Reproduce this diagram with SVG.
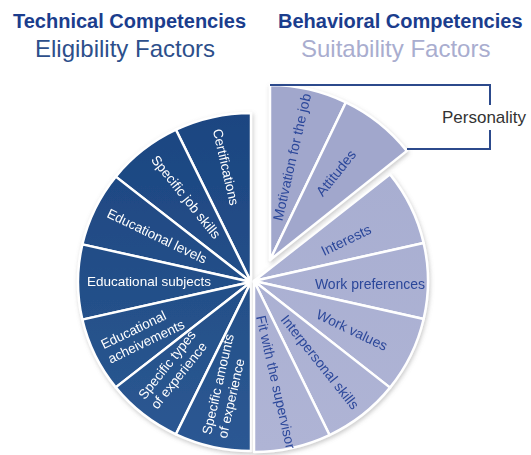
<svg xmlns="http://www.w3.org/2000/svg" width="531" height="455" viewBox="0 0 531 455">
<defs>
<linearGradient id="gDark" gradientUnits="userSpaceOnUse" x1="0" y1="113" x2="0" y2="451">
<stop offset="0" stop-color="#1c4581"/>
<stop offset="0.55" stop-color="#245089"/>
<stop offset="1" stop-color="#2c5893"/>
</linearGradient>
<linearGradient id="gLight" gradientUnits="userSpaceOnUse" x1="0" y1="170" x2="0" y2="452">
<stop offset="0" stop-color="#a8aed1"/>
<stop offset="1" stop-color="#afb4d5"/>
</linearGradient>
<filter id="sh" x="-10%" y="-10%" width="120%" height="120%">
<feDropShadow dx="1" dy="2" stdDeviation="2" flood-color="#7a7a7a" flood-opacity="0.4"/>
</filter>
</defs>
<style>
.dk{fill:url(#gDark);stroke:#fff;stroke-width:2.5;stroke-linejoin:round}
.lt{fill:url(#gLight);stroke:#fff;stroke-width:2.5;stroke-linejoin:round}
.ex{fill:#a1a7cc;stroke:#fff;stroke-width:2.5;stroke-linejoin:round}
.dl{font-family:"Liberation Sans",Arial,sans-serif;font-size:13.5px;fill:#fff}
.ll{font-family:"Liberation Sans",Arial,sans-serif;font-size:14px;fill:#2b479a}
.h1{font-family:"Liberation Sans",Arial,sans-serif;font-size:20px;font-weight:bold;fill:#1b3d8d}
.h2{font-family:"Liberation Sans",Arial,sans-serif;font-size:24px}
.br{fill:none;stroke:#2c4a8c;stroke-width:2}
</style>
<rect width="531" height="455" fill="#fff"/>
<g id="titles">
<text class="h1" x="13" y="28">Technical Competencies</text>
<text class="h2" x="35" y="57" fill="#2d4f8b">Eligibility Factors</text>
<text class="h1" x="278" y="28">Behavioral Competencies</text>
<text class="h2" x="301" y="57" fill="#a9adcf">Suitability Factors</text>
</g>
<g filter="url(#sh)">
<g id="certifications">
<path class="dk" d="M251,282 L251,113 A173,169 0 0 0 175.94,129.74 Z"/>
<text class="dl" text-anchor="middle" dy="0.35em" transform="translate(226,167) rotate(77.14)">Certifications</text>
</g>
<g id="specific-job-skills">
<path class="dk" d="M251,282 L175.94,129.74 A173,169 0 0 0 115.74,176.63 Z"/>
<text class="dl" text-anchor="middle" dy="0.35em" transform="translate(186,197) rotate(51.43)">Specific job skills</text>
</g>
<g id="educational-levels">
<path class="dk" d="M251,282 L115.74,176.63 A173,169 0 0 0 82.34,244.39 Z"/>
<text class="dl" text-anchor="middle" dy="0.35em" transform="translate(157,236) rotate(25.71)">Educational levels</text>
</g>
<g id="educational-subjects">
<path class="dk" d="M251,282 L82.34,244.39 A173,169 0 0 0 82.34,319.61 Z"/>
<text class="dl" text-anchor="middle" dy="0.35em" transform="translate(149,281)">Educational subjects</text>
</g>
<g id="educational-acheivements">
<path class="dk" d="M251,282 L82.34,319.61 A173,169 0 0 0 115.74,387.37 Z"/>
<text class="dl" transform="translate(105,352) rotate(-25.71)"><tspan x="0" y="-3">Educational</tspan><tspan x="0" y="13">acheivements</tspan></text>
</g>
<g id="specific-types-of-experience">
<path class="dk" d="M251,282 L115.74,387.37 A173,169 0 0 0 175.94,434.26 Z"/>
<text class="dl" transform="translate(147,402) rotate(-51.43)"><tspan x="0" y="-3">Specific types</tspan><tspan x="0" y="13">of experience</tspan></text>
</g>
<g id="specific-amounts-of-experience">
<path class="dk" d="M251,282 L175.94,434.26 A173,169 0 0 0 251,451 Z"/>
<text class="dl" transform="translate(214,436) rotate(-77.14)"><tspan x="0" y="-3">Specific amounts</tspan><tspan x="0" y="13">of experience</tspan></text>
</g>
</g>
<g filter="url(#sh)">
<g id="interests">
<path class="lt" d="M254,281 L390.04,174.38 A174,171 0 0 1 423.64,242.95 Z"/>
<text class="ll" text-anchor="middle" dy="0.35em" transform="translate(346,240) rotate(-25.71)">Interests</text>
</g>
<g id="work-preferences">
<path class="lt" d="M254,281 L423.64,242.95 A174,171 0 0 1 423.64,319.05 Z"/>
<text class="ll" text-anchor="middle" dy="0.35em" transform="translate(370,284)">Work preferences</text>
</g>
<g id="work-values">
<path class="lt" d="M254,281 L423.64,319.05 A174,171 0 0 1 390.04,387.62 Z"/>
<text class="ll" text-anchor="middle" dy="0.35em" transform="translate(352,330) rotate(25.71)">Work values</text>
</g>
<g id="interpersonal-skills">
<path class="lt" d="M254,281 L390.04,387.62 A174,171 0 0 1 329.5,435.07 Z"/>
<text class="ll" text-anchor="middle" dy="0.35em" transform="translate(320,362) rotate(51.43)">Interpersonal skills</text>
</g>
<g id="fit-with-the-supervisor">
<path class="lt" d="M254,281 L329.5,435.07 A174,171 0 0 1 254,452 Z"/>
<text class="ll" text-anchor="middle" dy="0.35em" transform="translate(276,382) rotate(77.14)">Fit with the supervisor</text>
</g>
</g>
<g filter="url(#sh)">
<g id="motivation-for-the-job">
<path class="ex" d="M270,260 L270,85 A175,175 0 0 1 345.93,102.33 Z"/>
<text class="ll" text-anchor="middle" dy="0.35em" transform="translate(292,157) rotate(-77.14)">Motivation for the job</text>
</g>
<g id="attitudes">
<path class="ex" d="M270,260 L345.93,102.33 A175,175 0 0 1 406.82,150.89 Z"/>
<text class="ll" text-anchor="middle" dy="0.35em" transform="translate(336,173) rotate(-51.43)">Attitudes</text>
</g>
</g>
<g id="connectors">
<path class="br" d="M270,85 H490 V105 M490,130 V149 H407"/>
</g>
<g id="personality">
<text x="442" y="123" font-family="Liberation Sans, Arial, sans-serif" font-size="17" fill="#333">Personality</text>
</g>
</svg>
